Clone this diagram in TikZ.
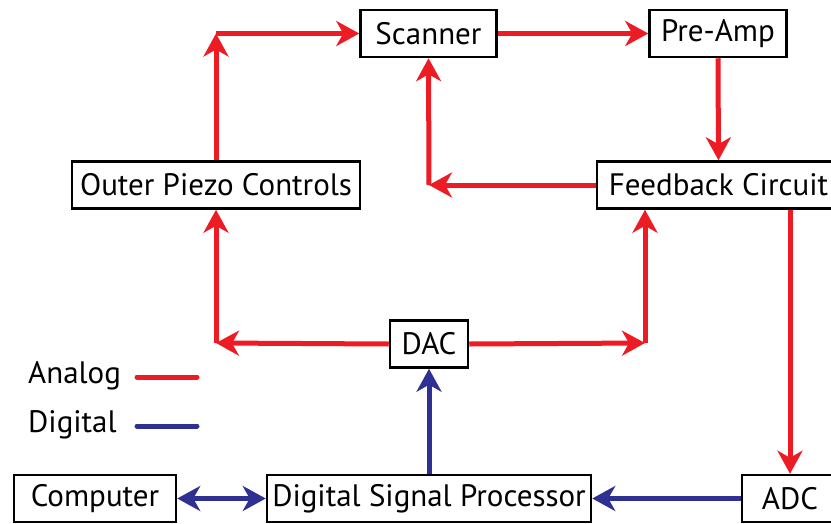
\documentclass[tikz,border=0pt]{standalone}
\usepackage{fontspec}
\setmainfont{PT Sans}
\usetikzlibrary{arrows.meta}
\definecolor{sigred}{RGB}{237,28,36}
\definecolor{sigblue}{RGB}{46,49,146}

\begin{document}
\begin{tikzpicture}[x=1pt, y=-1pt, font=\fontsize{31}{37}\selectfont]
        \tikzstyle{block} = [rectangle, draw, line width=2.5pt, inner xsep=0pt, minimum height=47pt, text centered]
        \tikzstyle{analog} = [draw=sigred, line width=5pt, -{Stealth[length=23pt, width=25pt, inset=7pt]}]
        \tikzstyle{digital} = [draw=sigblue, line width=5pt, -{Stealth[length=23pt, width=25pt, inset=7pt]}]
        \useasboundingbox (0,0) rectangle (831,523);
        \node[block, minimum width=136pt] (scanner) at (428.5,33.5) {Scanner};
        \node[block, minimum width=137pt] (preamp) at (718,33.5) {Pre-Amp};
        \node[block, minimum width=288pt] (outer) at (216,185) {Outer Piezo Controls};
        \node[block, minimum width=243pt] (feedback) at (718.5,185) {Feedback Circuit};
        \node[block, minimum width=78pt] (dac) at (429,344) {DAC};
        \node[block, minimum width=162pt] (computer) at (95,498.5) {Computer};
        \node[block, minimum width=324pt] (dsp) at (429,498.5) {Digital Signal Processor};
        \node[block, minimum width=96pt] (adc) at (790,498.5) {ADC};
        \coordinate (topleft) at (216,33.5);
        \coordinate (fbturn) at (429,185);
        \coordinate (dacleft) at (216,343);
        \coordinate (dacright) at (645,343);
        \draw[analog] (outer.north) -- (topleft);
        \draw[analog] (topleft) -- (scanner.west);
        \draw[analog] (scanner.east) -- (preamp.west);
        \draw[analog] (preamp.south) -- (feedback.north);
        \draw[analog] (feedback.west) -- (fbturn);
        \draw[analog] (fbturn) -- (scanner.south);
        \draw[analog] (dac.west) -- (dacleft);
        \draw[analog] (dacleft) -- (outer.south);
        \draw[analog] (dac.east) -- (dacright);
        \draw[analog] (dacright) -- (dacright |- feedback.south);
        \draw[analog] (feedback.south -| adc.north) -- (adc.north);
        \draw[digital] (adc.west) -- (dsp.east);
        \draw[digital] (dsp.north) -- (dac.south);
        \draw[digital, {Stealth[length=23pt, width=25pt, inset=7pt]}-{Stealth[length=23pt, width=25pt, inset=7pt]}] (computer.east) -- (dsp.west);
        \node[anchor=west, inner sep=0pt] (analog) at (28,376) {Analog};
        \node[anchor=west, inner sep=0pt] (digital) at (28,425) {Digital};
        \coordinate (analogkey) at (137,377);
        \coordinate (digitalkey) at (137,426);
        \draw[draw=sigred, line width=5pt, line cap=round] (analogkey) -- ++(60,0);
        \draw[draw=sigblue, line width=5pt, line cap=round] (digitalkey) -- ++(60,0);
    \end{tikzpicture}
\end{document}
